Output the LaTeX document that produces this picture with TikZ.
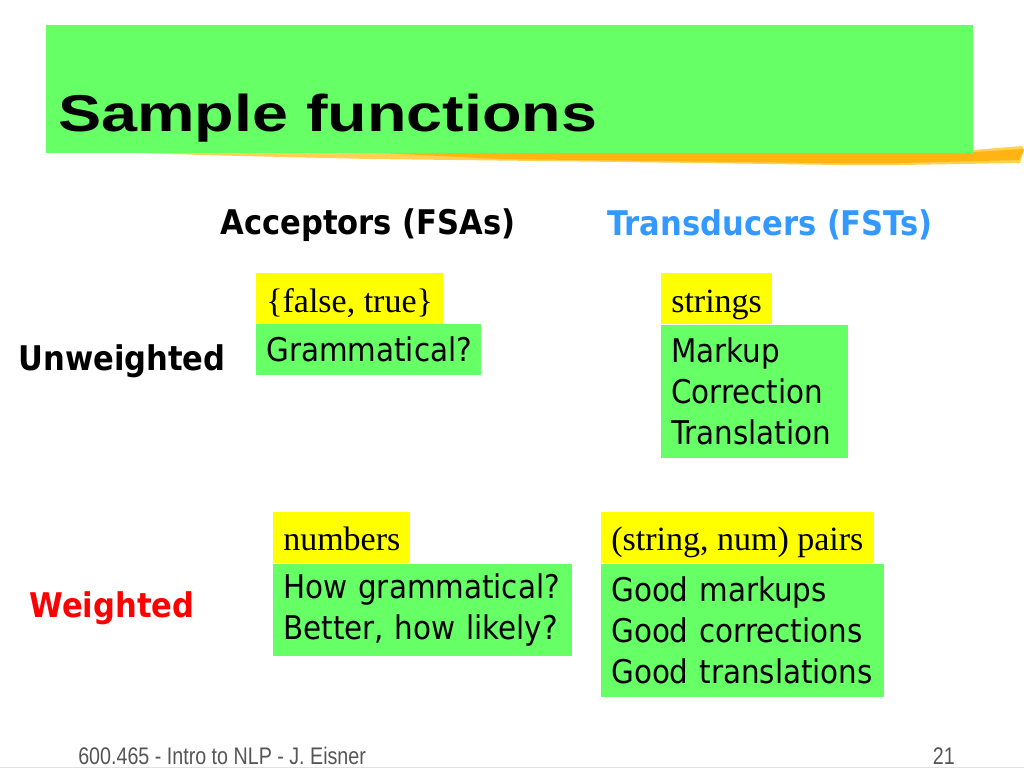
\documentclass[tikz,border=0pt]{standalone}
\usepackage{fontspec}
\setmainfont{Liberation Serif}
\newfontfamily\arialfont{Liberation Sans}
\newfontfamily\tahfont{DejaVu Sans Condensed}
\definecolor{slidegreen}{HTML}{66FF66}
\definecolor{slideyellow}{HTML}{FFFF00}
\definecolor{headblue}{HTML}{3399FF}
\definecolor{brush}{HTML}{FFB414}
\definecolor{brushlight}{HTML}{FFD052}
\definecolor{footgray}{HTML}{555555}
\newcommand{\ytext}[2]{\makebox[#1][l]{#2}}
\begin{document}
\begin{tikzpicture}[x=0.75pt,y=-0.75pt,
  ybox/.style={fill=slideyellow, anchor=north west, inner xsep=7.5pt, inner ysep=0pt,
    text depth=0pt, minimum height=38.25pt, font=\fontsize{25.5}{30}\selectfont},
  gbox/.style={fill=slidegreen, anchor=north west, inner xsep=7.5pt, inner ysep=0pt,
    align=left, font=\tahfont\fontsize{24.5}{30.75}\selectfont},
  head/.style={font=\tahfont\bfseries\fontsize{25.5}{28}\selectfont, inner sep=0pt},
  foot/.style={font=\arialfont\fontsize{18}{20}\selectfont, text=footgray, inner sep=0pt}]
\useasboundingbox (0,0) rectangle (1024,768);
% brush stroke
\fill[brushlight] (120,152) -- (600,151) -- (973,150) -- (1022,146) -- (1024,150) -- (1020,163)
  -- (900,165) -- (840,165) -- (700,163) -- (540,161) -- (370,159) -- (200,155) -- cycle;
\fill[brush] (380,153) -- (973,152) -- (1024,149) -- (1019,160) -- (900,163) -- (820,163)
  -- (650,161) -- (500,159) -- cycle;
% title
\node[fill=slidegreen, anchor=north west, minimum width=695.25pt, minimum height=96pt, inner sep=0pt]
  (titlebox) at (46,25) {};
\node[anchor=base west, inner sep=0pt, font=\arialfont\bfseries\fontsize{48.5}{50}\selectfont]
  (title) at (58,131) {\scalebox{1}[0.8]{Sample functions}};
% column and row headers
\node[head] (acc) at (368,225) {Acceptors (FSAs)};
\node[head, text=headblue] (trans) at (770,225) {Transducers (FSTs)};
\node[head] (unw) at (122,361) {Unweighted};
\node[head, text=red] (wei) at (112,608) {Weighted};
% unweighted acceptor
\node[ybox, text height=20.25pt] (y1) at (256,273) {\ytext{125.25pt}{\{false, true\}}};
\node[gbox, text width=153.75pt, minimum height=38.25pt] (g1) at (256,324) {Grammatical?};
% unweighted transducer
\node[ybox, text height=20.25pt] (y2) at (661,273) {\ytext{68.25pt}{strings}};
\node[gbox, text width=125.25pt, minimum height=99.75pt] (g2) at (661,325) {Markup\\Correction\\Translation};
% weighted acceptor
\node[ybox, text height=18.75pt] (y3) at (273,512) {\ytext{87.75pt}{numbers}};
\node[gbox, text width=209.25pt, minimum height=69pt] (g3) at (273,564) {How grammatical?\\Better, how likely?};
% weighted transducer
\node[ybox, text height=18.75pt] (y4) at (601,512) {\ytext{189.75pt}{(string, num) pairs}};
\node[gbox, text width=197.25pt, minimum height=99.75pt] (g4) at (601,564) {Good markups\\Good corrections\\Good translations};
% footer
\draw[black!12, line width=0.6pt] (0,767) -- (1024,767);
\node[foot, anchor=base west] (course) at (78,764) {\scalebox{0.82}[1]{600.465 - Intro to NLP - J. Eisner}};
\node[foot, anchor=base east] (page) at (955,764) {\scalebox{0.82}[1]{21}};
\end{tikzpicture}
\end{document}
